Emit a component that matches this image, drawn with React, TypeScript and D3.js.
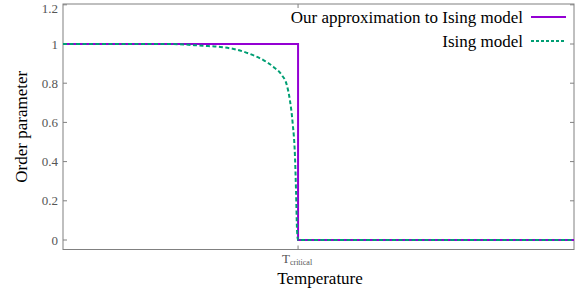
import { useEffect, useRef } from "react"
import * as d3 from "d3"

// approximation: a step at T critical
const approxT = [0, 2.3, 2.3, 5]
const approxM = [1, 1, 0, 0]

// Ising model values
const isingT = [0, 1.05, 1.37, 1.54, 1.7, 1.83, 1.96, 2.06, 2.14, 2.19, 2.22, 2.247, 2.27, 2.28, 2.29, 2.3, 5]
const isingM = [1, 1, 0.991, 0.985, 0.971, 0.949, 0.918, 0.883, 0.842, 0.791, 0.714, 0.597, 0.423, 0.255, 0.051, 0, 0]

const yTicks = [0, 0.2, 0.4, 0.6, 0.8, 1, 1.2]
const tCritical = 2.3

const W = 581
const H = 292

export default function App() {
  const svgRef = useRef<SVGSVGElement>(null)

  useEffect(() => {
    if (!svgRef.current) return
    const svg = d3.select(svgRef.current)
    svg.selectAll("*").remove()

    const left = 63, right = 574, top = 4, bottom = 249.5
    const font = "'Times New Roman', Times, 'Liberation Serif', 'Noto Serif', 'DejaVu Serif', serif"

    const x = d3.scaleLinear().domain([0, 5]).range([left, right])
    const y = d3.scaleLinear().domain([0, 1.2]).range([240, 4.8])

    const frameCol = "#808080"

    // frame
    svg.append("rect")
      .attr("x", left).attr("y", top)
      .attr("width", right - left).attr("height", bottom - top)
      .attr("fill", "none").attr("stroke", frameCol).attr("stroke-width", 1)

    // y ticks + labels
    yTicks.forEach(t => {
      svg.append("line")
        .attr("x1", left).attr("x2", left + 4)
        .attr("y1", y(t)).attr("y2", y(t))
        .attr("stroke", frameCol)
      svg.append("line")
        .attr("x1", right).attr("x2", right - 4)
        .attr("y1", y(t)).attr("y2", y(t))
        .attr("stroke", frameCol)
      svg.append("text")
        .attr("x", left - 5).attr("y", Math.max(y(t), 8.5))
        .attr("text-anchor", "end")
        .attr("dominant-baseline", "central")
        .style("font-family", font).style("font-size", "13px")
        .attr("fill", "#555")
        .text(String(t))
    })

    // x tick at T critical
    svg.append("line")
      .attr("x1", x(tCritical)).attr("x2", x(tCritical))
      .attr("y1", bottom).attr("y2", bottom - 4)
      .attr("stroke", frameCol)
    svg.append("line")
      .attr("x1", x(tCritical)).attr("x2", x(tCritical))
      .attr("y1", top).attr("y2", top + 4)
      .attr("stroke", frameCol)
    const tl = svg.append("text")
      .attr("x", x(tCritical) - 1).attr("y", 263)
      .attr("text-anchor", "middle")
      .style("font-family", font).style("font-size", "13px")
      .attr("fill", "#555")
    tl.append("tspan").text("T")
    tl.append("tspan").style("font-size", "8px").attr("dy", 2).text("critical")

    // axis titles
    svg.append("text")
      .attr("x", 320).attr("y", 284)
      .attr("text-anchor", "middle")
      .style("font-family", font).style("font-size", "17px")
      .attr("fill", "#000")
      .text("Temperature")
    svg.append("text")
      .attr("transform", `translate(27, ${(top + bottom) / 2}) rotate(-90)`)
      .attr("text-anchor", "middle")
      .style("font-family", font).style("font-size", "17px")
      .attr("fill", "#000")
      .text("Order parameter")

    const line = d3.line<[number, number]>()
      .x(d => x(d[0]))
      .y(d => y(d[1]))

    const approx = approxT.map((t, i) => [t, approxM[i]] as [number, number])
    const ising = isingT.map((t, i) => [t, isingM[i]] as [number, number])

    svg.append("path")
      .datum(approx)
      .attr("d", line)
      .attr("fill", "none")
      .attr("stroke", "#9400d3")
      .attr("stroke-width", 2)

    svg.append("path")
      .datum(ising)
      .attr("d", line.curve(d3.curveMonotoneX))
      .attr("fill", "none")
      .attr("stroke", "#009e73")
      .attr("stroke-width", 2)
      .attr("stroke-dasharray", "4,2.5")

    // legend
    const legend = [
      { label: "Our approximation to Ising model", color: "#9400d3", dash: null, y: 17 },
      { label: "Ising model", color: "#009e73", dash: "3,2", y: 41 },
    ]
    legend.forEach(l => {
      svg.append("text")
        .attr("x", 523).attr("y", l.y)
        .attr("text-anchor", "end")
        .attr("dominant-baseline", "central")
        .style("font-family", font).style("font-size", "17px")
        .attr("fill", "#000")
        .text(l.label)
      svg.append("line")
        .attr("x1", 531).attr("x2", 566)
        .attr("y1", l.y).attr("y2", l.y)
        .attr("stroke", l.color)
        .attr("stroke-width", 2)
        .attr("stroke-dasharray", l.dash)
    })
  }, [])

  return (
    <svg ref={svgRef} width={W} height={H} style={{ position: "absolute", left: 0, top: 0, background: "#fff" }} />
  )
}
